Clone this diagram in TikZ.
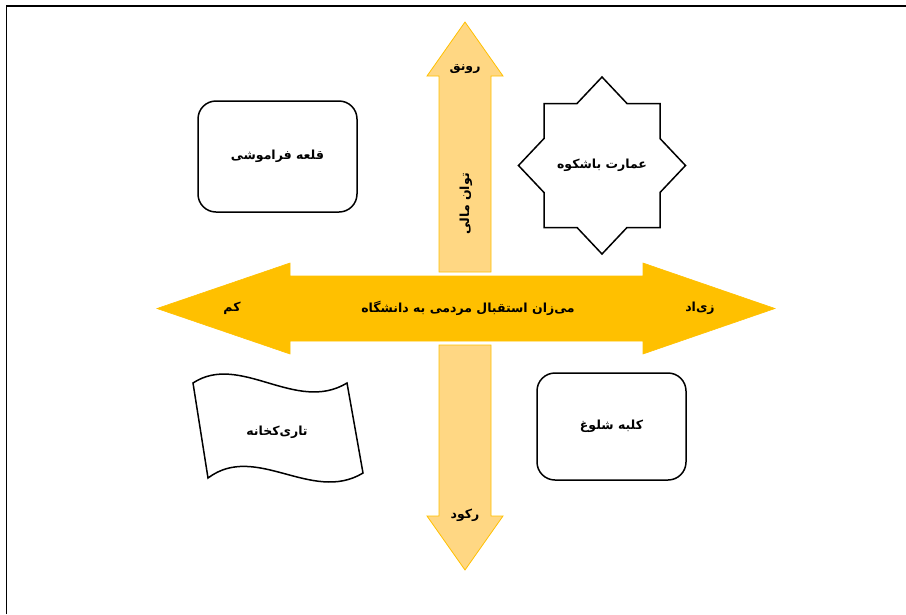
\documentclass[tikz,border=0pt]{standalone}
\usepackage{fontspec}
\newfontfamily\fa[Script=Arabic]{DejaVu Sans}
\TeXXeTstate=1
\definecolor{gold}{HTML}{FFC000}
\definecolor{lightgold}{HTML}{FFD783}
\newcommand{\fat}[1]{{\fa\bfseries\fontsize{12.5}{14}\selectfont\beginR #1\endR}}
\tikzset{
  box/.style={draw=black, line width=1.5pt, rounded corners=18pt, inner sep=0pt},
  lbl/.style={inner sep=1pt},
  bigarrow/.style={fill=gold, draw=gold, line width=0.6pt, line join=miter},
  smallarrow/.style={fill=lightgold, draw=gold, line width=0.8pt, line join=miter},
  outline/.style={draw=black, line width=1.5pt, line join=miter}
}
\begin{document}
\begin{tikzpicture}[x=1pt,y=-1pt]
\useasboundingbox (0,0) rectangle (906,614);
% frame
\draw[line width=1.8pt] (6.5,614) -- (6.5,6) -- (906,6);
% vertical arrows
\draw[smallarrow] (465,22) -- (503,76) -- (491,76) -- (491,272) -- (439,272) -- (439,76) -- (427,76) -- cycle;
\draw[smallarrow] (465,570) -- (503,516) -- (491,516) -- (491,345) -- (439,345) -- (439,516) -- (427,516) -- cycle;
% horizontal arrow
\draw[bigarrow] (157,308.5) -- (290,263) -- (290,276) -- (643,276) -- (643,263) -- (775,308.5) -- (643,354) -- (643,341) -- (290,341) -- (290,354) -- cycle;
% labels on arrows
\node[lbl] (up) at (465,69) {\fat{رونق}};
\node[lbl,rotate=90] (power) at (466,204) {\fat{توان مالی}};
\node[lbl] (down) at (465,515) {\fat{رکود}};
\node[lbl] (low) at (232,308) {\fat{کم}};
\node[lbl] (high) at (700,308) {\fat{زی^^^^200cاد}};
\node[lbl] (axis) at (468,308) {\fat{می^^^^200cزان استقبال مردمی به دانشگاه}};
% rounded boxes
\node[box, minimum width=159pt, minimum height=111pt] (castle) at (277.5,156.5) {\fat{قلعه فراموشی}};
\node[box, minimum width=149pt, minimum height=107pt] (hut) at (611.5,426.5) {\fat{کلبه شلوغ}};
% star
\draw[outline] (602,77) -- (627,103.5) -- (660,103.5) -- (660,138.5) -- (685.5,165.5) -- (660,192.5) -- (660,227.5) -- (627,227.5) -- (602,254) -- (577,227.5) -- (544,227.5) -- (544,192.5) -- (518.5,165.5) -- (544,138.5) -- (544,103.5) -- (577,103.5) -- cycle;
\node[lbl] (palace) at (602,165.5) {\fat{عمارت باشکوه}};
% wave flag
\draw[outline] (193,383) .. controls (240,352) and (296,414) .. (347,383) -- (363,473) .. controls (312,504) and (256,442) .. (208,478) -- cycle;
\node[lbl] (dark) at (277,432) {\fat{تاری^^^^200cکخانه}};
\end{tikzpicture}
\end{document}
